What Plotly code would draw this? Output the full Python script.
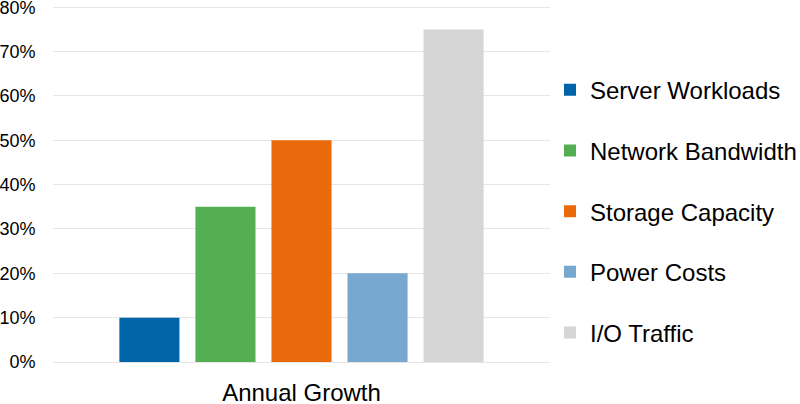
import plotly.graph_objects as go

category = ["Annual Growth"]
series_names = ["Server Workloads", "Network Bandwidth", "Storage Capacity", "Power Costs", "I/O Traffic"]
series_values = [10, 35, 50, 20, 75]
series_colors = ["#0064A8", "#54AF53", "#EA6A0B", "#78A8CF", "#D6D6D6"]
y_ticks = [0, 10, 20, 30, 40, 50, 60, 70, 80]
y_tick_labels = [f"{v}%" for v in y_ticks]

fig = go.Figure()
for name, val, col in zip(series_names, series_values, series_colors):
    fig.add_trace(go.Bar(
        x=category, y=[val], name=name, legendgroup=name,
        marker=dict(color=col, line=dict(width=0)),
    ))

fig.update_layout(
    width=800, height=404,
    margin=dict(l=53, r=250, t=5, b=42, autoexpand=False),
    paper_bgcolor="white", plot_bgcolor="white",
    font=dict(family="Liberation Sans, Arial, sans-serif", color="#000000"),
    barmode="group", bargap=0.235, bargroupgap=0.21,
    showlegend=True,
    legend=dict(
        x=1.0, xanchor="left", y=0.4225, yanchor="middle",
        font=dict(size=24), traceorder="grouped", tracegroupgap=26.5,
        bgcolor="rgba(0,0,0,0)",
    ),
    xaxis=dict(
        showgrid=False, showline=False, zeroline=False, automargin=False,
        ticks="outside", ticklen=9, tickcolor="rgba(0,0,0,0)",
        tickfont=dict(size=24),
    ),
    yaxis=dict(
        range=[0, 80.5], tickvals=y_ticks, ticktext=y_tick_labels,
        showgrid=True, gridcolor="#E6E6E6", gridwidth=1,
        zeroline=True, zerolinecolor="#E6E6E6", zerolinewidth=1,
        showline=False, automargin=False, ticklabeloverflow="allow",
        ticks="outside", ticklen=13, tickcolor="rgba(0,0,0,0)",
        tickfont=dict(size=18),
    ),
)

fig.write_html("out.html")
